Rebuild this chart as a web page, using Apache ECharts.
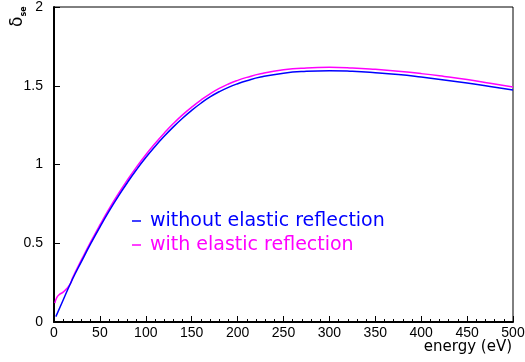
<!DOCTYPE html>
<html>
<head>
<meta charset="utf-8">
<script src="https://cdn.jsdelivr.net/npm/echarts@6/dist/echarts.min.js"></script>
<style>
  html, body { margin: 0; padding: 0; background: #fff; }
  #chart { width: 525px; height: 362px; }
</style>
</head>
<body>
<div id="chart"></div>
<script>
// Secondary electron yield vs. primary energy
const energyNoElastic = [2, 10, 20, 30, 40, 50, 60, 70, 80, 90, 100, 110, 120, 130, 140, 150, 160, 170, 180, 190, 200, 210, 225, 250, 275, 300, 325, 350, 375, 400, 425, 450, 475, 500];
const yieldNoElastic  = [0.034, 0.14, 0.27, 0.385, 0.497, 0.603, 0.704, 0.798, 0.886, 0.968, 1.044, 1.114, 1.179, 1.239, 1.294, 1.344, 1.389, 1.429, 1.462, 1.49, 1.513, 1.532, 1.555, 1.58, 1.592, 1.596, 1.592, 1.583, 1.571, 1.555, 1.537, 1.517, 1.495, 1.473];

const energyElastic = [1, 3, 6, 10, 14, 18, 20, 30, 40, 50, 60, 70, 80, 90, 100, 110, 120, 130, 140, 150, 160, 170, 180, 190, 200, 210, 225, 250, 275, 300, 325, 350, 375, 400, 425, 450, 475, 500];
const yieldElastic  = [0.12, 0.155, 0.175, 0.19, 0.212, 0.245, 0.278, 0.396, 0.509, 0.616, 0.718, 0.813, 0.902, 0.985, 1.062, 1.133, 1.199, 1.26, 1.315, 1.364, 1.409, 1.449, 1.483, 1.511, 1.534, 1.553, 1.576, 1.601, 1.613, 1.617, 1.613, 1.604, 1.592, 1.577, 1.559, 1.539, 1.516, 1.492];

const seriesNames = ['without elastic reflection', 'with elastic reflection'];
const seriesColors = ['#0000ff', '#ff00ff'];

const pairs = (xs, ys) => xs.map((x, i) => [x, ys[i]]);

const chart = echarts.init(document.getElementById('chart'), null, { renderer: 'canvas' });

const tickFont = { color: '#000', fontFamily: 'Liberation Sans', fontSize: 14 };

chart.setOption({
  animation: false,
  backgroundColor: '#fff',
  grid: {
    left: 54, right: 12, top: 7, bottom: 40,
    outerBoundsMode: 'none', containLabel: false,
    show: true, borderColor: '#000', borderWidth: 1, backgroundColor: 'transparent'
  },
  legend: {
    orient: 'vertical',
    left: 127, top: 206,
    itemWidth: 9, itemHeight: 1.5, itemGap: 4,
    icon: 'rect',
    selectedMode: false,
    textStyle: { fontFamily: 'DejaVu Sans', fontSize: 19, lineHeight: 20, padding: [0, 0, 0, 4] },
    data: [
      { name: seriesNames[0], textStyle: { color: seriesColors[0] } },
      { name: seriesNames[1], textStyle: { color: seriesColors[1] } }
    ]
  },
  xAxis: {
    type: 'value', min: 0, max: 500, interval: 50,
    axisLine: { show: true, onZero: false, lineStyle: { color: '#000', width: 2 } },
    axisTick: { show: true, inside: true, length: 6, lineStyle: { color: '#000', width: 1 } },
    minorTick: { show: true, splitNumber: 5, length: 3, lineStyle: { color: '#000', width: 1 } },
    splitLine: { show: false },
    axisLabel: Object.assign({ margin: 4 }, tickFont)
  },
  yAxis: {
    type: 'value', min: 0, max: 2, interval: 0.5,
    axisLine: { show: true, onZero: false, lineStyle: { color: '#000', width: 2 } },
    axisTick: { show: true, inside: true, length: 6, lineStyle: { color: '#000', width: 1 } },
    splitLine: { show: false },
    axisLabel: Object.assign({ margin: 11 }, tickFont)
  },
  graphic: [
    {
      type: 'text', right: 13, top: 340,
      style: { text: 'energy (eV)', fontFamily: 'DejaVu Sans', fontSize: 15, fill: '#000' }
    },
    {
      type: 'text', x: 8, y: 27, rotation: Math.PI / 2,
      style: {
        text: '{d|δ}{s|se}',
        rich: {
          d: { fontFamily: 'DejaVu Sans', fontSize: 17, fill: '#000', lineHeight: 20 },
          s: { fontFamily: 'DejaVu Sans', fontSize: 8, fill: '#000', fontWeight: 'bold', lineHeight: 20, verticalAlign: 'bottom', padding: [10, 0, 0, 0] }
        }
      }
    }
  ],
  series: [
    {
      name: seriesNames[0], type: 'line', smooth: true, showSymbol: false,
      data: pairs(energyNoElastic, yieldNoElastic),
      lineStyle: { color: seriesColors[0], width: 1.5 }, itemStyle: { color: seriesColors[0] }, z: 3
    },
    {
      name: seriesNames[1], type: 'line', smooth: true, showSymbol: false,
      data: pairs(energyElastic, yieldElastic),
      lineStyle: { color: seriesColors[1], width: 1.5 }, itemStyle: { color: seriesColors[1] }, z: 2
    }
  ]
});
</script>
</body>
</html>
